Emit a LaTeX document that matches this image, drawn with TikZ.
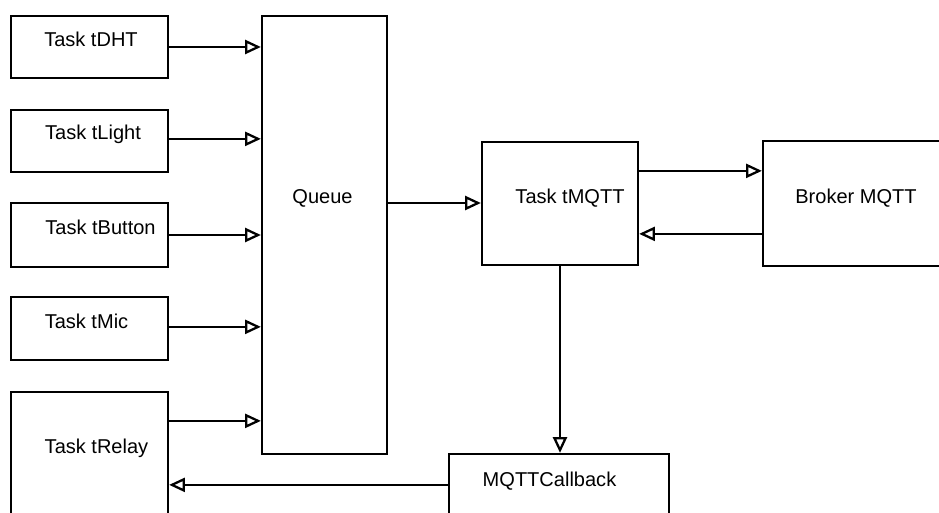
\documentclass[tikz,border=0pt]{standalone}
\usepackage{fontspec}
\setmainfont{Liberation Sans}
\usetikzlibrary{arrows.meta,calc}

\tikzset{
    box/.style={draw, line width=1.3pt, rectangle, inner sep=0pt},
    lbl/.style={anchor=base, inner sep=0pt, font=\fontsize{11.4pt}{13pt}\selectfont},
    arr/.style={line width=1.3pt, -{Triangle[open, length=9pt, width=8pt, line width=1.3pt]}}
}

\begin{document}
\begin{tikzpicture}[line cap=butt, line join=miter, x=0.02cm, y=-0.02cm]
                \useasboundingbox (0, 0) rectangle (939, 513);
                \clip (0, 0) rectangle (939, 513);

                % Tasks
                \node[box, minimum width=3.14cm, minimum height=1.24cm] (dht) at (89.5, 47) {};
                \node[box, minimum width=3.14cm, minimum height=1.24cm] (light) at (89.5, 141) {};
                \node[box, minimum width=3.14cm, minimum height=1.28cm] (button) at (89.5, 235) {};
                \node[box, minimum width=3.14cm, minimum height=1.26cm] (mic) at (89.5, 328.5) {};
                \node[box, minimum width=3.14cm, minimum height=4.16cm] (relay) at (89.5, 496) {};

                % Queue
                \node[box, minimum width=2.5cm, minimum height=8.76cm] (queue) at (324.5, 235) {};

                % MQTT side
                \node[box, minimum width=3.12cm, minimum height=2.46cm] (mqtt) at (560, 203.5) {};
                \node[box, minimum width=4cm, minimum height=2.5cm] (broker) at (863, 203.5) {};
                \node[box, minimum width=4.4cm, minimum height=2.52cm] (callback) at (559, 517) {};

                % Labels
                \node[lbl] (dhtl) at (91, 47) {Task tDHT};
                \node[lbl] (lightl) at (93, 140) {Task tLight};
                \node[lbl] (buttonl) at (100.5, 235) {Task tButton};
                \node[lbl] (micl) at (86.5, 328) {Task tMic};
                \node[lbl] (relayl) at (96.5, 453) {Task tRelay};
                \node[lbl] (queuel) at (322.5, 203) {Queue};
                \node[lbl] (mqttl) at (570, 203) {Task tMQTT};
                \node[lbl] (brokerl) at (856, 203) {Broker MQTT};
                \node[lbl] (callbackl) at (549.5, 486) {MQTTCallback};

                % Tasks to queue
                \draw[arr] (dht.east) -- (dht.east -| queue.west);
                \draw[arr] ($(light.north east)+(0, 30)$) coordinate (lighto) -- (lighto -| queue.west);
                \draw[arr] (button.east) -- (button.east -| queue.west);
                \draw[arr] ($(mic.north east)+(0, 31)$) coordinate (mico) -- (mico -| queue.west);
                \draw[arr] ($(relay.north east)+(0, 30)$) coordinate (relayo) -- (relayo -| queue.west);

                % Queue to MQTT and broker
                \draw[arr] (queue.east |- mqttl.base) -- (mqtt.west |- mqttl.base);
                \draw[arr] ($(mqtt.north east)+(0, 30)$) coordinate (mqtto) -- (mqtto -| broker.west);
                \draw[arr] ($(broker.north west)+(0, 94)$) coordinate (brokero) -- (brokero -| mqtt.east);

                % Callback
                \draw[arr] (mqtt.south) -- (mqtt.south |- callback.north);
                \draw[arr] ($(callback.north west)+(0, 32)$) coordinate (callbacko) -- (callbacko -| relay.east);
            \end{tikzpicture}
\end{document}
